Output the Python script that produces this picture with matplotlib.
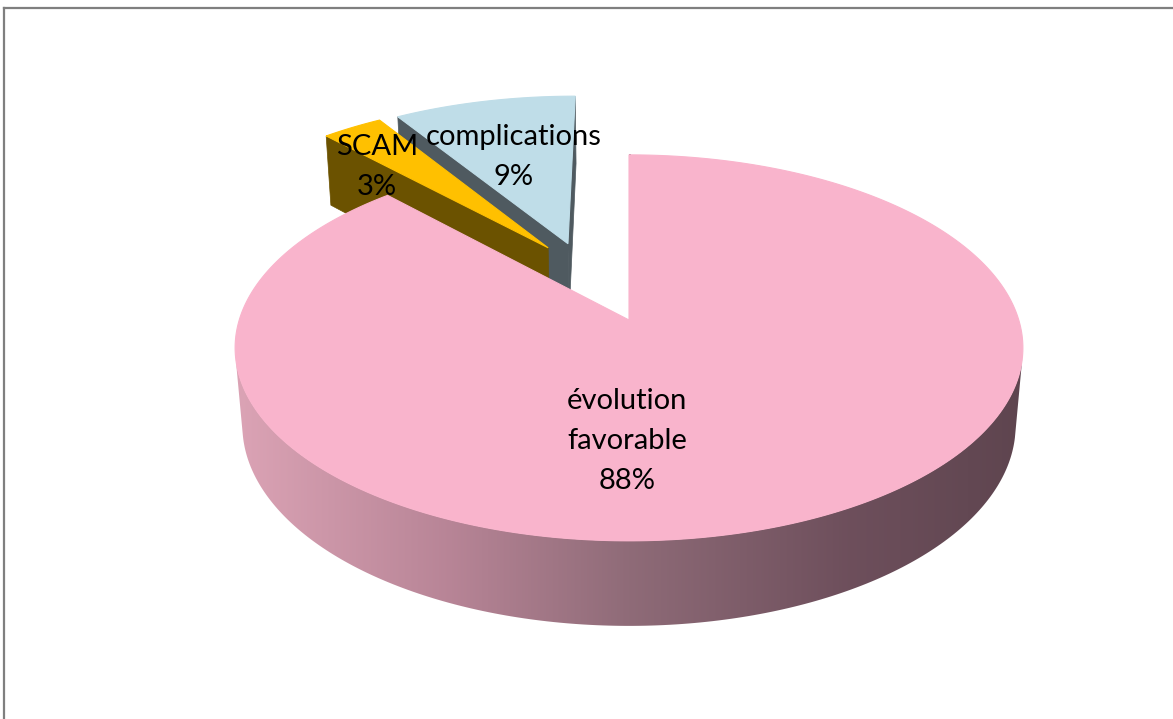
import numpy as np
import matplotlib
matplotlib.use("Agg")
import matplotlib.pyplot as plt
from matplotlib.patches import Polygon
from matplotlib.lines import Line2D
from matplotlib.colors import LinearSegmentedColormap

# Slice data (clockwise from 12 o'clock)
labels = ["évolution\nfavorable", "SCAM", "complications"]
values = [88, 3, 9]
top_colors = ["#F9B4CC", "#FFC000", "#BFDDE8"]
side_colors = [None, "#6B5200", "#4F5A60"]
explode = [0.0, 0.46, 0.46]
explode_turn = [0.0, 9.3, -5.0]   # degrees added to the slice bisector
label_pos = [(627, 441), (377, 167), (514, 157)]

W, H = 1173, 719
fig = plt.figure(figsize=(W / 100, H / 100), dpi=100)
ax = fig.add_axes([0, 0, 1, 1])
ax.set_xlim(0, W)
ax.set_ylim(H, 0)
ax.axis("off")

# Simple perspective camera for a tilted disk
elev = np.radians(29)
ce, se = np.cos(elev), np.sin(elev)
d0, focal = 6.06, 2362.0
cx, cy = 629.0, 320.0
depth = 0.23
cam_d = -d0 * ce


def proj(X, D, Hh):
    up = Hh * ce + D * se
    dist = d0 + D * ce - Hh * se
    return cx + focal * X / dist, cy - focal * up / dist


def arc(ox, od, th, h):
    x, y = proj(ox + np.sin(th), od + np.cos(th), h)
    return np.column_stack([x, y])


def radial_face(ox, od, a):
    c0 = proj(ox, od, 0.0)
    c1 = proj(ox, od, -depth)
    p0 = proj(ox + np.sin(a), od + np.cos(a), 0.0)
    p1 = proj(ox + np.sin(a), od + np.cos(a), -depth)
    return np.array([c0, p0, p1, c1])


total = float(sum(values))
bounds = np.concatenate([[0], np.cumsum(values)]) / total * 2 * np.pi

side_cmap = LinearSegmentedColormap.from_list(
    "side",
    [(0.0, (0.86, 0.64, 0.71)), (0.27, (0.72, 0.52, 0.59)),
     (0.5, (0.56, 0.42, 0.47)), (0.78, (0.43, 0.31, 0.36)),
     (1.0, (0.37, 0.27, 0.31))])

order = [2, 1, 0]
for i in order:
    a0, a1 = bounds[i], bounds[i + 1]
    mid = 0.5 * (a0 + a1) + np.radians(explode_turn[i])
    ox, od = explode[i] * np.sin(mid), explode[i] * np.cos(mid)
    th = np.linspace(a0, a1, 400)

    # radial cut faces
    sc = side_colors[i] if side_colors[i] else "#8E6A78"
    n_start = (-np.cos(a0), np.sin(a0))
    if (0 - ox) * n_start[0] + (cam_d - od) * n_start[1] > 1e-6:
        ax.add_patch(Polygon(radial_face(ox, od, a0), closed=True,
                             facecolor=sc, edgecolor=sc, lw=0.5, zorder=1))
    n_end = (np.cos(a1), -np.sin(a1))
    if (0 - ox) * n_end[0] + (cam_d - od) * n_end[1] > 1e-6:
        ax.add_patch(Polygon(radial_face(ox, od, a1), closed=True,
                             facecolor=sc, edgecolor=sc, lw=0.5, zorder=1))

    # outer wall, only where it faces the camera
    vis = (-ox * np.sin(th) + (cam_d - od) * np.cos(th) - 1) > 0
    if vis.any():
        idx = np.where(vis)[0]
        segs = np.split(idx, np.where(np.diff(idx) > 1)[0] + 1)
        for s in segs:
            t = th[s]
            poly = np.vstack([arc(ox, od, t, 0.0), arc(ox, od, t[::-1], -depth)])
            if side_colors[i] is None:
                patch = Polygon(poly, closed=True, facecolor="none",
                                edgecolor="none", zorder=1)
                ax.add_patch(patch)
                x0, x1 = poly[:, 0].min(), poly[:, 0].max()
                y0, y1 = poly[:, 1].min(), poly[:, 1].max()
                grad = np.linspace(0, 1, 512)[None, :]
                im = ax.imshow(grad, cmap=side_cmap, aspect="auto",
                               extent=(x0, x1, y1, y0), zorder=1,
                               interpolation="bilinear")
                im.set_clip_path(patch)
            else:
                ax.add_patch(Polygon(poly, closed=True, facecolor=side_colors[i],
                                     edgecolor=side_colors[i], lw=0.5, zorder=1))

    # edge-on cut face of the large slice, seen as a thin line
    if side_colors[i] is None:
        p_back = proj(ox + np.sin(a0), od + np.cos(a0), 0.0)
        p_mid = proj(ox, od, 0.0)
        ax.plot([p_back[0] + 0.8, p_mid[0] + 0.8], [p_back[1], p_mid[1]],
                color="#7A5C68", lw=1.3, zorder=1)

    # top face
    top = np.vstack([[proj(ox, od, 0.0)], arc(ox, od, th, 0.0)])
    ax.add_patch(Polygon(top, closed=True, facecolor=top_colors[i],
                         edgecolor=top_colors[i], lw=0.8, zorder=1))

    ax.text(label_pos[i][0], label_pos[i][1], f"{labels[i]}\n{values[i]}%",
            ha="center", va="center", fontsize=21, family="Lato",
            color="black", linespacing=1.68, zorder=3)

# frame lines along the top and left edges
fig.add_artist(Line2D([4 / W, 4 / W], [0, 1 - 8 / H], transform=fig.transFigure,
                      color="#7F7F7F", lw=1.6))
fig.add_artist(Line2D([4 / W, 1], [1 - 8 / H, 1 - 8 / H], transform=fig.transFigure,
                      color="#7F7F7F", lw=1.6))

fig.savefig("out.png", dpi=100, facecolor="white")
